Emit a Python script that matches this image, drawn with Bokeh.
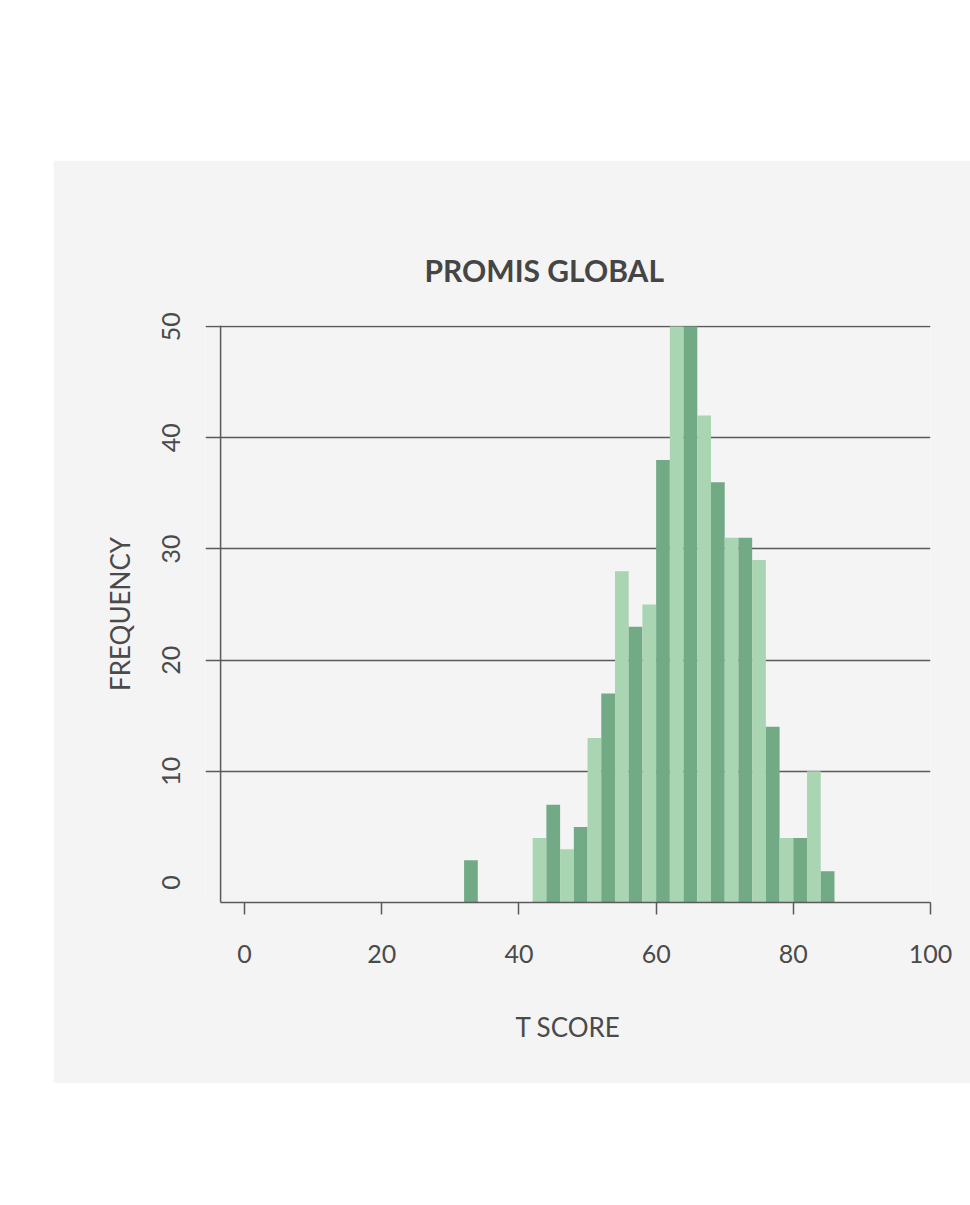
from bokeh.plotting import figure
from bokeh.models import Range1d, FixedTicker, Span, ColumnDataSource
from bokeh.embed import file_html
from bokeh.resources import INLINE

# ---- data (histogram of T scores, bins of width 2) ----
bin_left = [32, 42, 44, 46, 48, 50, 52, 54, 56, 58, 60, 62, 64, 66, 68, 70, 72, 74, 76, 78, 80, 82, 84]
counts   = [2,  4,  7,  3,  5,  13, 17, 28, 23, 25, 38, 50, 50, 42, 36, 31, 31, 29, 14, 4,  4,  10, 1]
bin_width = 2
x_ticks = [0, 20, 40, 60, 80, 100]
y_ticks = [0, 10, 20, 30, 40, 50]
grid_ticks = [10, 20, 30, 40, 50]

LIGHT = "#a9d5b2"
DARK = "#72aa86"
TEXT = "#4a4a4a"
LINE = "#5a5a5a"
BG = "#f4f4f4"
FONT = "Lato"

y_start = -1.8
x_start = -5.7

centers = [l + bin_width / 2 for l in bin_left]
colors = [DARK if (l // 2) % 2 == 0 else LIGHT for l in bin_left]
src = ColumnDataSource(dict(x=centers, top=counts, color=colors,
                            bottom=[y_start] * len(counts)))

p = figure(width=917, height=923, output_backend="svg", toolbar_location=None,
           x_range=Range1d(x_start, 100), y_range=Range1d(y_start, 50.1),
           min_border_left=152, min_border_right=40, min_border_top=165,
           min_border_bottom=181, title="PROMIS GLOBAL")
p.margin = (160, 0, 0, 53)
p.background_fill_color = BG
p.border_fill_color = BG
p.outline_line_color = None

p.title.text_font = FONT
p.title.text_font_size = "30px"
p.title.text_font_style = "bold"
p.title.text_color = "#454545"
p.title.align = "left"
p.title.offset = 219
p.title.standoff = 75

p.vbar(x="x", width=bin_width, top="top", bottom="bottom", color="color",
       line_color=None, source=src)

# grid
p.xgrid.grid_line_color = None
p.ygrid.ticker = FixedTicker(ticks=grid_ticks)
p.ygrid.grid_line_color = LINE
p.ygrid.grid_line_width = 1.5

# x axis
xa = p.xaxis[0]
xa.ticker = FixedTicker(ticks=x_ticks)
xa.bounds = (-3.5, 100)
xa.axis_line_color = LINE
xa.axis_line_width = 1.5
xa.major_tick_line_color = LINE
xa.major_tick_line_width = 1.5
xa.major_tick_in = 0
xa.major_tick_out = 12
xa.minor_tick_line_color = None
xa.major_label_text_font = FONT
xa.major_label_text_font_size = "25px"
xa.major_label_text_color = TEXT
xa.major_label_standoff = 30
xa.axis_label = "T SCORE"
xa.axis_label_text_font = FONT
xa.axis_label_text_font_size = "26px"
xa.axis_label_text_font_style = "normal"
xa.axis_label_text_color = TEXT
xa.axis_label_standoff = 45

# y axis
ya = p.yaxis[0]
ya.ticker = FixedTicker(ticks=y_ticks)
ya.axis_line_color = None
ya.major_tick_line_color = None
ya.minor_tick_line_color = None
ya.major_label_orientation = "vertical"
ya.major_label_text_font = FONT
ya.major_label_text_font_size = "25px"
ya.major_label_text_color = TEXT
ya.major_label_standoff = 19
ya.axis_label = "FREQUENCY"
ya.axis_label_text_font = FONT
ya.axis_label_text_font_size = "26px"
ya.axis_label_text_font_style = "normal"
ya.axis_label_text_color = TEXT
ya.axis_label_standoff = 24

p.add_layout(Span(location=-3.5, dimension="height", line_color=LINE, line_width=1.5))

open("out.html", "w").write(file_html(p, INLINE))
